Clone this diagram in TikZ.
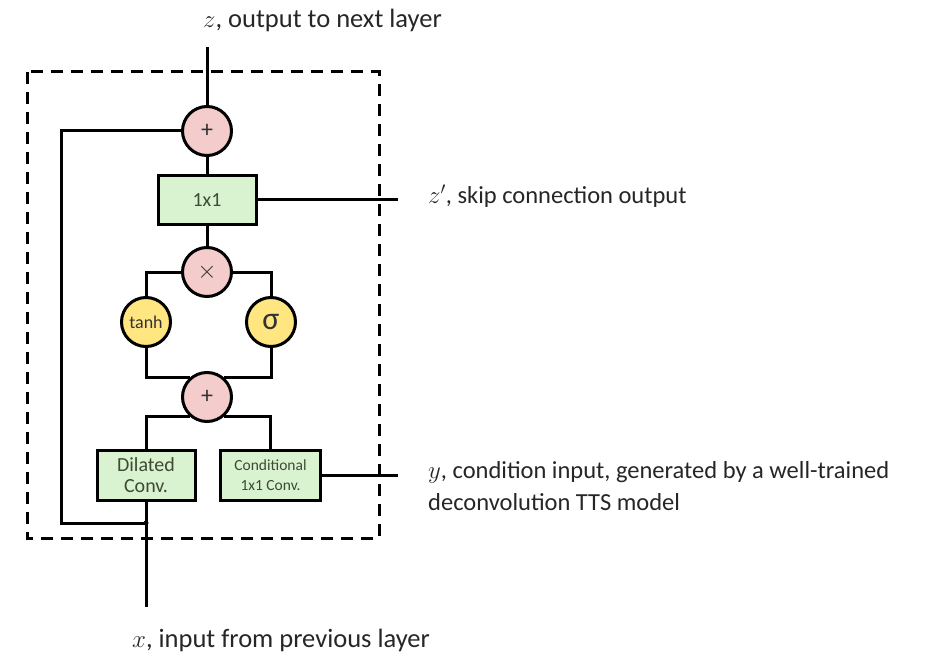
\documentclass[tikz,border=0pt]{standalone}
\usepackage{fontspec}
\setmainfont{Carlito}
\begin{document}
\begin{tikzpicture}[x=1pt,y=-1pt,
  wire/.style={line width=3pt,black},
  opnode/.style={circle,draw=black,line width=3pt,fill=pinkop,minimum size=49pt,inner sep=0pt,text=black!80},
  actnode/.style={circle,draw=black,line width=3pt,fill=yellowact,minimum size=49pt,inner sep=0pt,text=black!80},
  convbox/.style={rectangle,draw=black,line width=3pt,fill=greenconv,inner sep=0pt,align=center,text=boxtext},
  lbl/.style={anchor=base west,inner sep=0pt,text=black!85}]
\definecolor{pinkop}{RGB}{244,204,204}
\definecolor{yellowact}{RGB}{255,230,128}
\definecolor{greenconv}{RGB}{217,242,208}
\definecolor{boxtext}{RGB}{62,74,52}
\useasboundingbox (0,0) rectangle (951,658);

% residual block outline
\draw[line width=3pt,dash pattern=on 12pt off 8pt] (27,72) rectangle (379,538);

% operators and layers
\node[opnode,font=\fontsize{24}{24}\selectfont] (plusout) at (207,131) {+};
\node[convbox,minimum width=98pt,minimum height=48pt,font=\fontsize{20}{22}\selectfont] (onebyone) at (207,200) {1x1};
\node[opnode,font=\fontsize{26}{26}\selectfont] (times) at (207,272) {$\times$};
\node[actnode,font=\fontsize{18}{20}\selectfont] (tanh) at (146,322) {tanh};
\node[actnode,font=\fontsize{32}{32}\selectfont] (sigma) at (271,322) {σ};
\node[opnode,font=\fontsize{24}{24}\selectfont] (plusin) at (207,397) {+};
\node[convbox,minimum width=98pt,minimum height=50pt,font=\fontsize{20}{21}\selectfont] (dilated) at (146,475.5) {Dilated\\Conv.};
\node[convbox,minimum width=100pt,minimum height=50pt,font=\fontsize{15.5}{20}\selectfont] (cond) at (270.5,475.5) {Conditional\\1x1 Conv.};

% free ends and the residual path corners
\coordinate (zout) at (207,47);
\coordinate (xin) at (146,607);
\coordinate (skipout) at (398,200);
\coordinate (yin) at (398,475.5);
\coordinate (restop) at (61,131);
\coordinate (resbot) at (61,523);
\coordinate (split) at (146,523);

% connectors
\draw[wire] (plusout.north) -- (zout);
\draw[wire] (onebyone.north) -- (plusout.south);
\draw[wire] (times.north) -- (onebyone.south);
\draw[wire] (onebyone.east) -- (skipout);
\draw[wire] (times.west) -| (tanh.north);
\draw[wire] (times.east) -| (sigma.north);
\draw[wire] (tanh.south) |- (plusin.130);
\draw[wire] (sigma.south) |- (plusin.50);
\draw[wire] (plusin.230) -| (dilated.north);
\draw[wire] (plusin.310) -| (cond.north);
\draw[wire] (cond.east) -- (yin);
\draw[wire] (xin) -- (dilated.south);
\draw[wire,line join=miter] (split) -- (resbot) -- (restop) -- (plusout.west);
\fill (split) circle (2.5pt);

% labels
\node[lbl,font=\fontsize{26.5}{30}\selectfont] (zlbl) at (203,28) {$z$, output to next layer};
\node[lbl,font=\fontsize{24.5}{30}\selectfont] (skiplbl) at (428,204) {$z'$, skip connection output};
\node[lbl,font=\fontsize{24.5}{30}\selectfont] (ylbl) at (428,478) {$y$, condition input, generated by a well-trained};
\node[lbl,font=\fontsize{24.5}{30}\selectfont] (ylbltwo) at (428,510) {deconvolution TTS model};
\node[lbl,font=\fontsize{26.5}{30}\selectfont] (xlbl) at (132,647) {$x$, input from previous layer};
\end{tikzpicture}
\end{document}
